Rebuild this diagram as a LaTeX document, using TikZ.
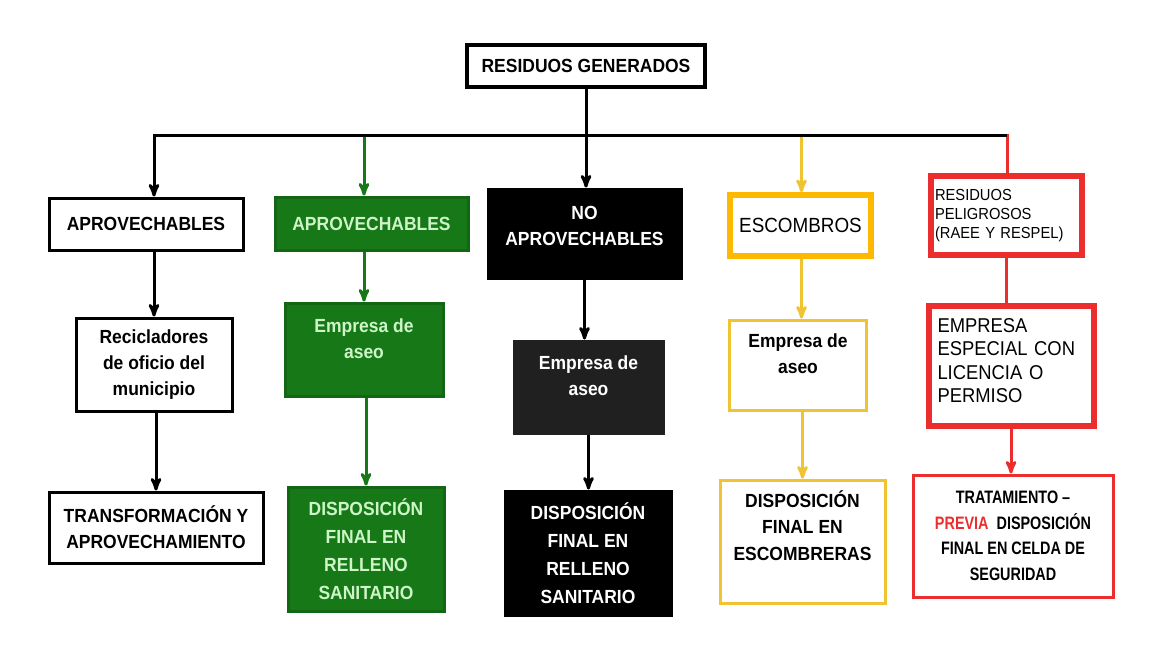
\documentclass[tikz,border=0pt]{standalone}
\usepackage{fontspec}
\setmainfont[FakeStretch=0.92]{Liberation Sans}
\newfontfamily\narrowfont[FakeStretch=0.8]{Liberation Sans}
\usetikzlibrary{shapes,backgrounds,calc,arrows}
\tikzset{>=stealth'}
\definecolor{leafgreen}{RGB}{22,120,22}
\definecolor{palegreen}{RGB}{205,245,200}
\definecolor{nearblack}{RGB}{32,32,32}
\definecolor{amber}{RGB}{255,184,0}
\definecolor{gold}{RGB}{240,195,50}
\definecolor{alarmred}{RGB}{236,45,45}

\begin{document}
\begin{tikzpicture}[x=1pt,y=-1pt]

\useasboundingbox (0,0) rectangle (1169,665);

%% styles
\tikzstyle{whitebox}=[draw, align=center, inner sep=0pt, line width=3pt, fill=white,
  font=\bfseries\fontsize{19}{26}\selectfont]
\tikzstyle{greenbox}=[whitebox, fill=leafgreen, draw=leafgreen!85!black, text=palegreen]
\tikzstyle{blackbox}=[whitebox, fill=black, text=white]
\tikzstyle{goldbox}=[whitebox, draw=gold]
\tikzstyle{redthin}=[whitebox, draw=alarmred, font=\narrowfont\bfseries\fontsize{18}{25.5}\selectfont]
\tikzstyle{amberbox}=[draw=amber, line width=6pt, align=center, inner sep=0pt, fill=white,
  font=\fontsize{20.5}{24}\selectfont]
\tikzstyle{redbox}=[draw=alarmred, line width=6pt, align=left, inner ysep=0pt, fill=white]

\tikzstyle{blackline}=[draw, line width=3pt]
\tikzstyle{greenline}=[draw=leafgreen, line width=3pt]
\tikzstyle{goldline}=[draw=gold, line width=3pt]
\tikzstyle{redline}=[draw=alarmred, line width=3pt]

%% top
\node(TOP)[style=whitebox, minimum width=238pt, minimum height=42pt, line width=3.5pt] at (586,66)
{RESIDUOS GENERADOS};

%% column 1
\node(A1)[style=whitebox, minimum width=194pt, minimum height=52pt] at (146,224)
{APROVECHABLES};

\node(R1)[style=whitebox, minimum width=156pt, minimum height=93pt] at (154,364.5)
{Recicladores\\de oficio del\\municipio};

\node(T1)[style=whitebox, minimum width=214pt, minimum height=71pt] at (156,527.5)
{TRANSFORMACIÓN Y\\APROVECHAMIENTO};

%% column 2
\node(A2)[style=greenbox, minimum width=193pt, minimum height=53pt] at (371.5,223.5)
{APROVECHABLES};

\node(E2)[style=greenbox, minimum width=158pt, minimum height=93pt,
  text height=41pt, text depth=24pt] at (364,349.5)
{Empresa de\\aseo};

\node(D2)[style=greenbox, minimum width=156pt, minimum height=124pt,
  font=\bfseries\fontsize{19}{28}\selectfont] at (366,549)
{DISPOSICIÓN\\FINAL EN\\RELLENO\\SANITARIO};

%% column 3
\node(N3)[style=blackbox, minimum width=193pt, minimum height=89pt,
  text height=41pt, text depth=18pt] at (584.5,233.5)
{NO\\APROVECHABLES};

\node(E3)[style=blackbox, fill=nearblack, draw=nearblack, minimum width=149pt, minimum height=92pt,
  text height=41pt, text depth=25pt] at (588.5,387)
{Empresa de\\aseo};

\node(D3)[style=blackbox, minimum width=166pt, minimum height=124pt,
  font=\bfseries\fontsize{19}{28}\selectfont] at (588,553)
{DISPOSICIÓN\\FINAL EN\\RELLENO\\SANITARIO};

%% column 4
\node(S4)[style=amberbox, minimum width=141pt, minimum height=61pt] at (800.5,225.5)
{ESCOMBROS};

\node(E4)[style=goldbox, minimum width=137pt, minimum height=90pt,
  text height=41pt, text depth=23.6pt] at (798,365)
{Empresa de\\aseo};

\node(D4)[style=goldbox, minimum width=165pt, minimum height=123pt,
  font=\bfseries\fontsize{19}{26.5}\selectfont, text height=68pt, text depth=31pt] at (802.5,541.5)
{DISPOSICIÓN\\FINAL EN\\ESCOMBRERAS};

%% column 5
\node(P5)[style=redbox, inner xsep=4.5pt, text width=142pt, minimum height=79pt,
  font=\fontsize{16}{19}\selectfont, text height=12pt, text depth=40.6pt] at (1006,215)
{RESIDUOS\\PELIGROSOS\\(RAEE Y RESPEL)};

\node(M5)[style=redbox, inner xsep=9pt, text width=147pt, minimum height=120pt,
  font=\fontsize{20}{23.5}\selectfont, text height=15pt, text depth=83pt] at (1011,366)
{EMPRESA\\ESPECIAL CON\\LICENCIA O\\PERMISO};

\node(T5)[style=redthin, minimum width=200pt, minimum height=122pt] at (1013,536)
{TRATAMIENTO –\\\textcolor{alarmred}{PREVIA}\ \ DISPOSICIÓN\\FINAL EN CELDA DE\\SEGURIDAD};

%% bus
\coordinate (B1) at (154,135);
\coordinate (B2) at (364,135);
\coordinate (B4) at (801.5,135);
\coordinate (B5) at (1007,135);

%% arrows
\path [style=greenline, ->] (B2) -- (B2 |- A2.north);
\path [style=goldline, ->] (B4) -- (B4 |- S4.north);
\path [style=redline, line cap=rect] (B5) -- (B5 |- P5.north);

\path [style=blackline, <-] (B1 |- A1.north) -- (B1) -- (B5);
\path [style=blackline, ->] (TOP.south) -- (TOP.south |- N3.north);

\path [style=blackline, ->] (R1.north |- A1.south) -- (R1.north);
\path [style=blackline, ->] (T1.north |- R1.south) -- (T1.north);

\path [style=greenline, ->] (E2.north |- A2.south) -- (E2.north);
\path [style=greenline, ->] (D2.north |- E2.south) -- (D2.north);

\path [style=blackline, ->] (N3.south) -- (N3.south |- E3.north);
\path [style=blackline, ->] (E3.south) -- (E3.south |- D3.north);

\path [style=goldline, ->] (B4 |- S4.south) -- (B4 |- E4.north);
\path [style=goldline, ->] (D4.north |- E4.south) -- (D4.north);

\path [style=redline] (P5.south) -- (P5.south |- M5.north);
\path [style=redline, ->] (M5.south) -- (M5.south |- T5.north);

\end{tikzpicture}
\end{document}
